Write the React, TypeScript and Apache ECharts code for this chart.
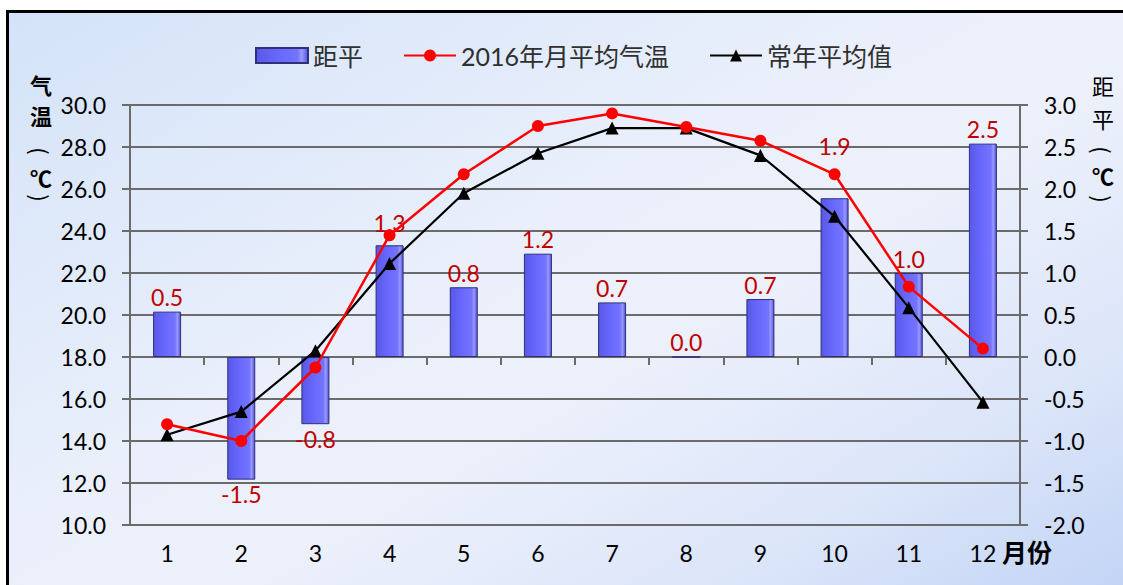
import React, { useEffect, useRef } from "react";
import * as echarts from "echarts";

const months = ["1", "2", "3", "4", "5", "6", "7", "8", "9", "10", "11", "12"];
const anomaly = [0.54, -1.46, -0.8, 1.33, 0.83, 1.23, 0.65, 0.0, 0.69, 1.89, 1.0, 2.54];
const temp2016 = [14.8, 14.0, 17.5, 23.8, 26.7, 29.0, 29.6, 28.95, 28.3, 26.7, 21.35, 18.4];
const normal = [14.3, 15.4, 18.3, 22.45, 25.8, 27.7, 28.9, 28.9, 27.6, 24.7, 20.35, 15.85];
const leftTicks = { min: 10, max: 30, interval: 2 };
const rightTicks = { min: -2, max: 3, interval: 0.5 };

const FONT = "Lato, 'Noto Sans CJK SC', sans-serif";
const CJK = "'Noto Sans CJK SC', sans-serif";

// manual label nudges (by month index), as in the original chart
const labelNudge: Record<number, number> = { 3: -8, 9: -38 };

export default function App() {
  const ref = useRef<HTMLDivElement>(null);
  useEffect(() => {
    if (!ref.current) return;
    const chart = echarts.init(ref.current, undefined, { renderer: "svg" });
    const axisLineColor = "#6b6b6b";
    const vChar = (t: string, x: number, y: number, size = 22, bold = true, rotation = 0) => ({
      type: "text",
      x,
      y,
      rotation,
      style: {
        text: t,
        font: `${bold ? "bold " : ""}${size}px ${CJK}`,
        lineHeight: size,
        fill: "#000",
        align: "center",
        verticalAlign: "middle",
      },
    });
    chart.setOption({
      animation: false,
      backgroundColor: "transparent",
      grid: { left: 130, right: 103, top: 105, bottom: 60 },
      legend: {
        top: 38,
        left: 250,
        itemWidth: 52,
        itemHeight: 15,
        itemGap: 40,
        textStyle: { fontFamily: FONT, fontSize: 25, color: "#303030" },
        data: [
          { name: "距平", icon: "rect" },
          { name: "2016年月平均气温" },
          { name: "常年平均值" },
        ],
      },
      xAxis: {
        type: "category",
        data: months,
        boundaryGap: true,
        axisLine: { lineStyle: { color: axisLineColor, width: 2 } },
        axisTick: { show: true, length: 8, lineStyle: { color: axisLineColor, width: 2 } },
        axisLabel: { color: "#000", fontSize: 23, fontFamily: FONT, margin: 16 },
      },
      yAxis: [
        {
          type: "value",
          min: leftTicks.min,
          max: leftTicks.max,
          interval: leftTicks.interval,
          axisLine: { show: true, lineStyle: { color: axisLineColor, width: 2 } },
          axisTick: { show: true, length: 8, lineStyle: { color: axisLineColor, width: 2 } },
          axisLabel: {
            color: "#000",
            fontSize: 23,
            fontFamily: FONT,
            margin: 24,
            formatter: (v: number) => v.toFixed(1),
          },
          splitLine: { show: true, lineStyle: { color: axisLineColor, width: 2 } },
        },
        {
          type: "value",
          min: rightTicks.min,
          max: rightTicks.max,
          interval: rightTicks.interval,
          axisLine: { show: true, lineStyle: { color: axisLineColor, width: 2 } },
          axisTick: { show: true, length: 8, lineStyle: { color: axisLineColor, width: 2 } },
          axisLabel: {
            color: "#000",
            fontSize: 23,
            fontFamily: FONT,
            margin: 24,
            formatter: (v: number) => v.toFixed(1),
          },
          splitLine: { show: false },
        },
      ],
      series: [
        {
          name: "距平",
          type: "bar",
          yAxisIndex: 1,
          barWidth: 28,
          itemStyle: {
            color: new echarts.graphic.LinearGradient(0, 0, 1, 0, [
              { offset: 0, color: "#5858e8" },
              { offset: 0.5, color: "#6a6aff" },
              { offset: 0.8, color: "#7474ff" },
              { offset: 0.88, color: "#9a9aff" },
              { offset: 1, color: "#5050d8" },
            ]),
            borderColor: "#30307a",
            borderWidth: 1,
          },
          label: {
            show: true,
            color: "#c00000",
            fontSize: 23,
            fontFamily: FONT,
            distance: 3,
            formatter: (p: any) => Number(p.value).toFixed(1),
          },
          data: anomaly.map((v, i) => ({
            value: v,
            label: {
              position: v < 0 ? "bottom" : "top",
              offset: [0, labelNudge[i] ?? 0],
            },
          })),
          z: 2,
        },
        {
          name: "2016年月平均气温",
          type: "line",
          yAxisIndex: 0,
          data: temp2016,
          symbol: "circle",
          symbolSize: 12,
          lineStyle: { color: "#ff0000", width: 2.5 },
          itemStyle: { color: "#ff0000" },
          z: 4,
        },
        {
          name: "常年平均值",
          type: "line",
          yAxisIndex: 0,
          data: normal,
          symbol: "triangle",
          symbolSize: 13,
          lineStyle: { color: "#000", width: 2.2 },
          itemStyle: { color: "#000" },
          z: 3,
        },
      ],
      graphic: [
        vChar("气", 41, 84),
        vChar("温", 41, 115),
        vChar("(", 41, 151, 22, false, -Math.PI / 2),
        vChar("℃", 41, 177),
        vChar(")", 41, 198, 22, false, -Math.PI / 2),
        vChar("距", 1103, 85, 22, false),
        vChar("平", 1103, 118, 22, false),
        vChar("(", 1103, 150, 22, false, -Math.PI / 2),
        vChar("℃", 1103, 175),
        vChar(")", 1103, 199, 22, false, -Math.PI / 2),
        {
          type: "text",
          x: 1027,
          y: 551,
          style: {
            text: "月份",
            font: `bold 25px ${CJK}`,
            fill: "#000",
            align: "center",
            verticalAlign: "middle",
          },
        },
      ],
    });
    return () => chart.dispose();
  }, []);

  return (
    <div style={{ position: "fixed", left: 0, top: 0, width: 1123, height: 585, background: "#fff", overflow: "hidden" }}>
      <div
        style={{
          position: "absolute",
          left: 6,
          top: 10,
          width: 1130,
          height: 590,
          border: "3px solid #000",
          background: "linear-gradient(150deg, #d4e3f8 0%, #e9effb 40%, #edf1fb 55%, #dbe5f9 80%, #c0d2f5 100%)",
        }}
      />
      <div ref={ref} style={{ position: "absolute", left: 0, top: 0, width: 1123, height: 585 }} />
    </div>
  );
}
